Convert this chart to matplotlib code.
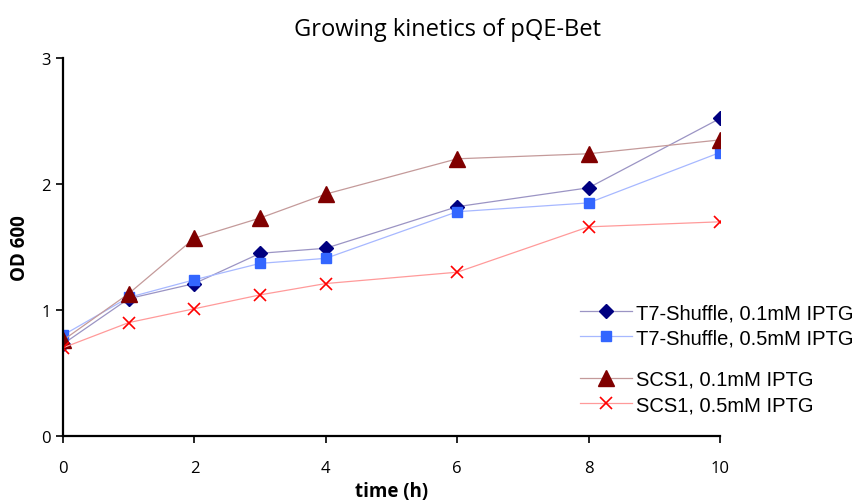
import matplotlib
matplotlib.use("Agg")
import matplotlib.pyplot as plt

time_h = [0, 1, 2, 3, 4, 6, 8, 10]
t7_01 = [0.73, 1.09, 1.21, 1.45, 1.49, 1.82, 1.97, 2.52]
t7_05 = [0.80, 1.10, 1.24, 1.37, 1.41, 1.78, 1.85, 2.25]
scs_01 = [0.76, 1.13, 1.57, 1.73, 1.92, 2.20, 2.24, 2.35]
scs_05 = [0.70, 0.90, 1.01, 1.12, 1.21, 1.30, 1.66, 1.70]
labels = ["T7-Shuffle, 0.1mM IPTG", "T7-Shuffle, 0.5mM IPTG",
          "SCS1, 0.1mM IPTG", "SCS1, 0.5mM IPTG"]
x_ticks = [0, 2, 4, 6, 8, 10]
y_ticks = [0, 1, 2, 3]

fig = plt.figure(figsize=(8.54, 5.02), dpi=100)
ax = fig.add_axes([63/854, 65/502, 657/854, 378/502])

styles = [
    dict(marker="D", color="#9b94c4", mfc="#000080", mec="#000080", ms=7),
    dict(marker="s", color="#a7b8ff", mfc="#3366ff", mec="#3366ff", ms=7),
    dict(marker="^", color="#c49a9a", mfc="#800000", mec="#800000", ms=12),
    dict(marker="x", color="#ff9a9a", mfc="#ff0000", mec="#ff0000", ms=8, mew=1.2),
]
series = [t7_01, t7_05, scs_01, scs_05]
handles = []
for ys, st, lab in zip(series, styles, labels):
    h, = ax.plot(time_h, ys, lw=0.9, label=lab, **st)
    handles.append(h)

ax.set_xlim(0, 10)
ax.set_ylim(0, 3)
ax.set_xticks(x_ticks)
ax.set_yticks(y_ticks)
for s in ["top", "right"]:
    ax.spines[s].set_visible(False)
for s in ["left", "bottom"]:
    ax.spines[s].set_linewidth(1.6)
    ax.spines[s].set_color("black")
ax.tick_params(axis="both", direction="out", length=5, width=1.2, labelsize=12)
ax.tick_params(axis="x", pad=12)
ax.tick_params(axis="y", pad=4)
for lab in ax.get_xticklabels() + ax.get_yticklabels():
    lab.set_fontfamily("Open Sans")

ax.set_xlabel("time (h)", fontsize=13.5, fontweight="bold", family="Open Sans", labelpad=4)
ax.set_ylabel("OD 600", fontsize=13.5, fontweight="bold", family="Open Sans")
ax.yaxis.set_label_coords(-0.050, 0.5)
fig.text(448/854, 1 - 30/502, "Growing kinetics of pQE-Bet", fontsize=17,
         family="Open Sans", ha="center", va="center")

leg_kw = dict(frameon=False, prop={"family": "Liberation Sans", "size": 14.5},
              handlelength=2.6, handletextpad=0.2, labelspacing=0.3,
              borderpad=0, borderaxespad=0)
leg1 = fig.legend(handles[:2], labels[:2], loc="upper left",
                  bbox_to_anchor=(580/854, 1 - 304/502), **leg_kw)
leg2 = fig.legend(handles[2:], labels[2:], loc="upper left",
                  bbox_to_anchor=(580/854, 1 - 371/502), **leg_kw)

fig.savefig("out.png", dpi=100)
